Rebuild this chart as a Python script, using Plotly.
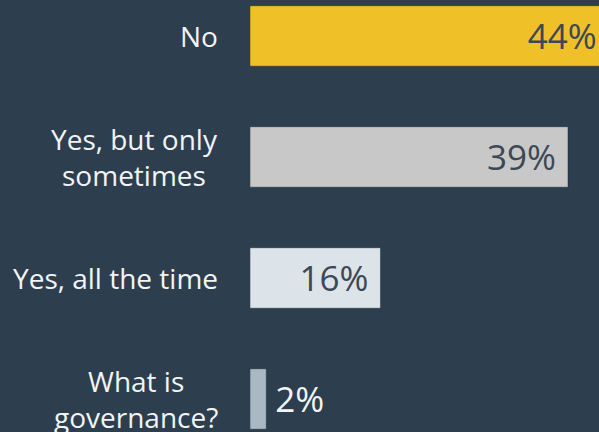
import plotly.graph_objects as go

# Data (bottom to top)
categories = ["What is<br>governance?", "Yes, all the time", "Yes, but only<br>sometimes", "No"]
values = [2, 16, 39, 44]

bar_colors = ["#a9b8c2", "#dce3e9", "#c8c8c8", "#f0c028"]
text_colors = ["#f2f4f5", "#3b4956", "#3b4956", "#3b4956"]
text_positions = ["outside", "inside", "inside", "inside"]
text_templates = ["\u2009%{x}%", "%{x}%\u00a0", "%{x}%\u00a0", "%{x}%\u00a0"]

BG = "#2d3e4f"
FONT = "Open Sans"

fig = go.Figure()
fig.add_trace(go.Bar(
    y=categories,
    x=values,
    orientation="h",
    width=0.5,
    marker=dict(color=bar_colors, line=dict(color="rgba(20,30,40,0.45)", width=1)),
    texttemplate=text_templates,
    textposition=text_positions,
    insidetextanchor="end",
    textangle=0,
    constraintext="none",
    textfont=dict(family=FONT, size=35, color=text_colors),
    cliponaxis=True,
    hoverinfo="skip",
))

for cat in categories:
    fig.add_annotation(
        xref="paper", yref="y", x=0, y=cat,
        text=cat, showarrow=False,
        xanchor="right", yanchor="middle", align="center",
        xshift=-30,
        font=dict(family=FONT, size=28, color="#f2f4f5"),
    )

fig.update_layout(
    width=599, height=432,
    margin=dict(l=250, r=0, t=0, b=0),
    paper_bgcolor=BG, plot_bgcolor=BG,
    showlegend=False,
    xaxis=dict(visible=False, range=[0, 42.8], fixedrange=True),
    yaxis=dict(
        type="category", categoryorder="array", categoryarray=categories,
        range=[-0.2727, 3.297], showticklabels=False, showgrid=False,
        zeroline=False, fixedrange=True,
    ),
)

fig.write_html(
    "out.html",
    config={"displayModeBar": False},
    post_script="document.body.style.margin='0';document.body.style.overflow='hidden';",
)
